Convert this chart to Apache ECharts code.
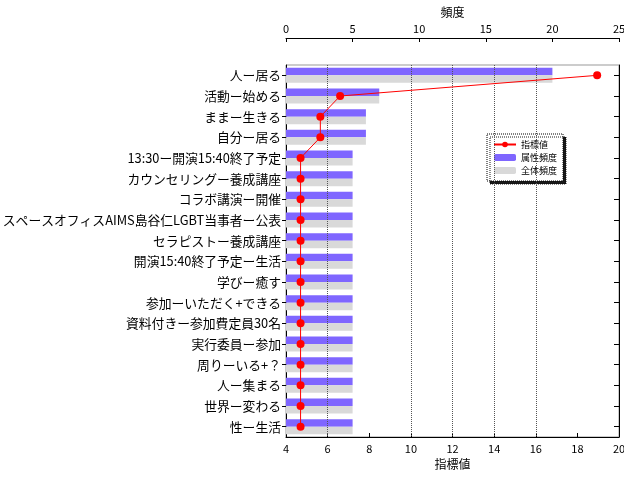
<!DOCTYPE html>
<html>
<head>
<meta charset="utf-8">
<script src="https://cdn.jsdelivr.net/npm/echarts@6/dist/echarts.min.js"></script>
<style>
  html, body { margin: 0; padding: 0; background: #fff; }
  #chart { width: 624px; height: 481px; }
</style>
</head>
<body>
<div id="chart"></div>
<script>
const categories = [
  '人ー居る', '活動ー始める', 'ままー生きる', '自分ー居る',
  '13:30ー開演15:40終了予定', 'カウンセリングー養成講座', 'コラボ講演ー開催',
  'スペースオフィスAIMS島谷仁LGBT当事者ー公表', 'セラピストー養成講座',
  '開演15:40終了予定ー生活', '学びー癒す', '参加ーいただく+できる',
  '資料付きー参加費定員30名', '実行委員ー参加', '周りーいる+？',
  '人ー集まる', '世界ー変わる', '性ー生活'
]
const attrFreq = [20, 7, 6, 6, 5, 5, 5, 5, 5, 5, 5, 5, 5, 5, 5, 5, 5, 5]
const totalFreq = [20, 7, 6, 6, 5, 5, 5, 5, 5, 5, 5, 5, 5, 5, 5, 5, 5, 5]
const indexValues = [18.95, 6.6, 5.65, 5.65, 4.7, 4.7, 4.7, 4.7, 4.7, 4.7, 4.7, 4.7, 4.7, 4.7, 4.7, 4.7, 4.7, 4.7]
const gridLineValues = [6, 10, 12, 14, 16]

const font = '"Noto Sans CJK JP", sans-serif'
const chart = echarts.init(document.getElementById('chart'))

const option = {
  animation: false,
  textStyle: { fontFamily: font },
  grid: {
    left: 286, right: 5, top: 65, bottom: 44,
    outerBoundsMode: 'none',
    show: true, borderColor: '#999', borderWidth: 1
  },
  legend: {
    left: 487, top: 134,
    orient: 'vertical',
    itemWidth: 22, itemHeight: 7, itemGap: 4,
    padding: [6, 6, 6, 6],
    backgroundColor: '#fff',
    borderColor: '#000', borderWidth: 1, borderType: 'dotted',
    shadowColor: 'rgba(0,0,0,0.9)', shadowBlur: 0, shadowOffsetX: 3, shadowOffsetY: 3,
    textStyle: { fontSize: 9, color: '#000', fontFamily: font },
    data: ['指標値', '属性頻度', '全体頻度']
  },
  xAxis: [
    {
      type: 'value', position: 'bottom', min: 4, max: 20, interval: 2,
      name: '指標値', nameLocation: 'middle', nameGap: 17,
      nameTextStyle: { fontSize: 12, color: '#000' },
      axisLine: { show: true, lineStyle: { color: '#000' } },
      axisTick: { show: true, inside: true, length: 4, lineStyle: { color: '#000' } },
      axisLabel: { fontSize: 11, color: '#000', margin: 6 },
      splitLine: { show: false }
    },
    {
      type: 'value', position: 'top', min: 0, max: 25, interval: 5, offset: 27,
      name: '頻度', nameLocation: 'middle', nameGap: 19,
      nameTextStyle: { fontSize: 12, color: '#000' },
      axisLine: { show: true, lineStyle: { color: '#000' } },
      axisTick: { show: true, inside: true, length: 4, lineStyle: { color: '#000' } },
      axisLabel: { fontSize: 11, color: '#000', margin: 4 },
      splitLine: { show: false }
    }
  ],
  yAxis: [
    {
      type: 'category', data: categories, inverse: true, position: 'left',
      axisLine: { show: true, lineStyle: { color: '#000' } },
      axisTick: { show: true, alignWithLabel: true, length: 4, lineStyle: { color: '#000' } },
      axisLabel: { fontSize: 12.8, color: '#000', margin: 5 },
      splitLine: { show: false }
    },
    {
      type: 'category', data: categories, inverse: true, position: 'right',
      axisLine: { show: true, lineStyle: { color: '#000' } },
      axisTick: { show: true, inside: true, alignWithLabel: true, length: 5, lineStyle: { color: '#000' } },
      axisLabel: { show: false },
      splitLine: { show: false }
    }
  ],
  series: [
    {
      name: '属性頻度', type: 'bar', xAxisIndex: 1, yAxisIndex: 0,
      data: attrFreq, barWidth: 7.5, barGap: 0,
      itemStyle: { color: '#7f66ff' }, z: 2
    },
    {
      name: '全体頻度', type: 'bar', xAxisIndex: 1, yAxisIndex: 0,
      data: totalFreq, barWidth: 7.5, barGap: 0,
      itemStyle: { color: '#d9d9d9' }, z: 2
    },
    {
      name: '指標値', type: 'line', xAxisIndex: 0, yAxisIndex: 0,
      data: indexValues,
      symbol: 'circle', symbolSize: 8,
      lineStyle: { color: '#ff0000', width: 1 },
      itemStyle: { color: '#ff0000' },
      z: 5,
      markLine: {
        silent: true, symbol: 'none', label: { show: false },
        lineStyle: { color: '#555', type: 'dotted', width: 1 },
        data: gridLineValues.map(v => ({ xAxis: v }))
      }
    }
  ]
}
chart.setOption(option)
</script>
</body>
</html>
